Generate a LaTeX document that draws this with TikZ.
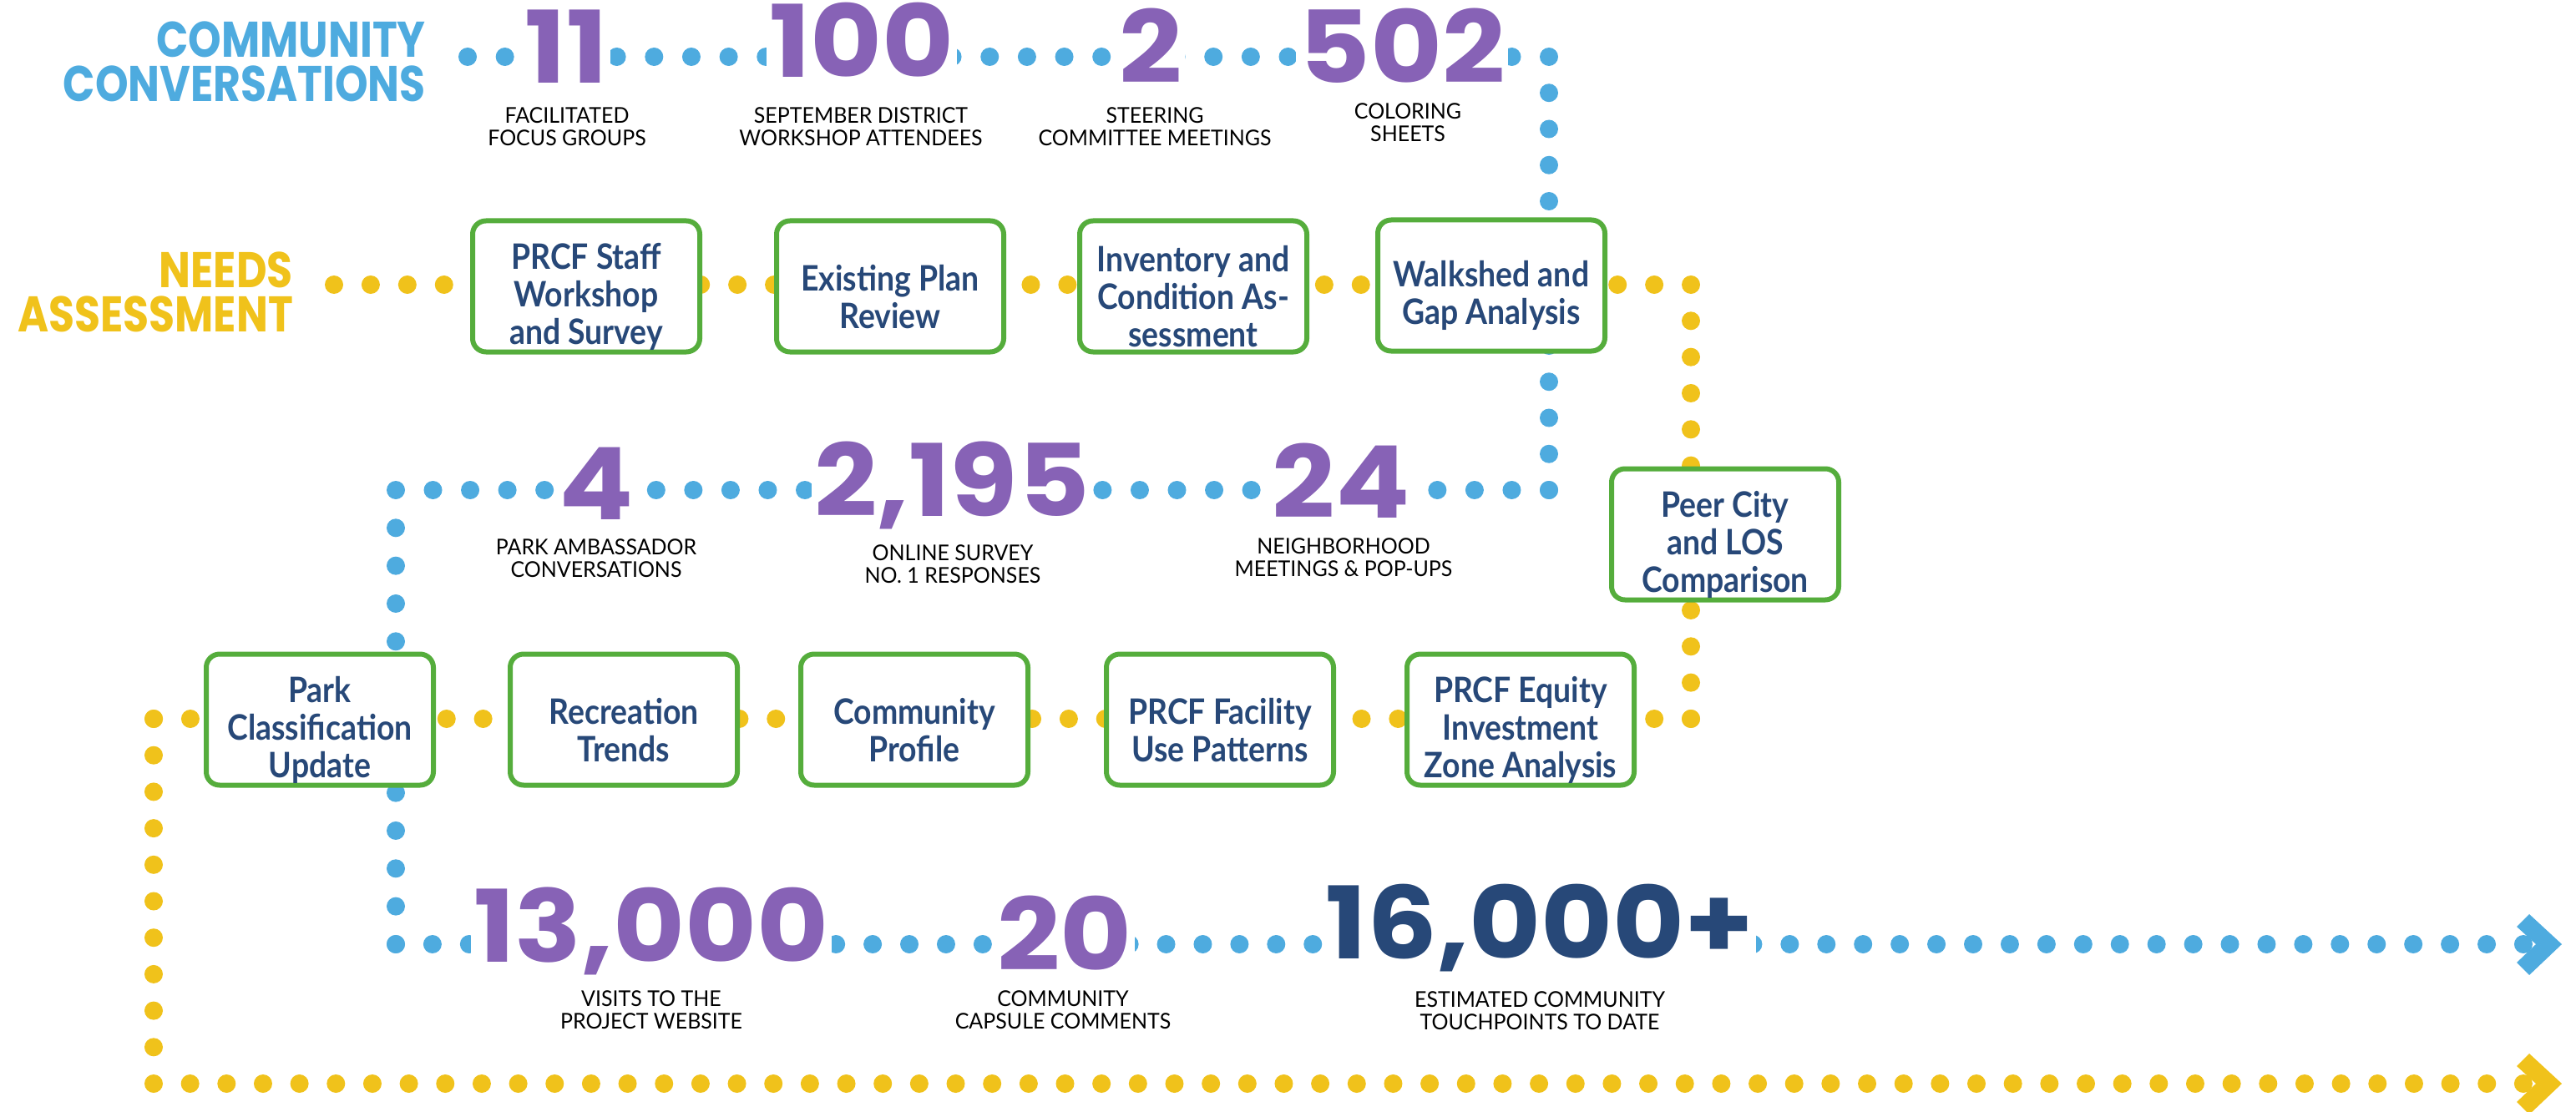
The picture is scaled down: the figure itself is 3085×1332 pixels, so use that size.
\documentclass[tikz,border=0pt]{standalone}
\usepackage{fontspec}
\newfontfamily\headfont{Poppins}[FakeStretch=0.84]
\newfontfamily\numfont{Poppins}[FakeStretch=1.1]
\newfontfamily\boxfont{Lato}[FakeStretch=0.89]
\newfontfamily\labfont{Lato}[FakeStretch=0.96]
\definecolor{blueC}{HTML}{4EABDF}
\definecolor{yellowC}{HTML}{F0C21B}
\definecolor{purpleC}{HTML}{8762B6}
\definecolor{navyC}{HTML}{274878}
\definecolor{greenC}{HTML}{55AD3C}
\newcommand\boxstrut{\rule{0pt}{56pt}}
\tikzset{
 dotline/.style={line width=22pt, line cap=round},
 box/.style={draw=greenC, line width=6pt, rounded corners=16pt, fill=white,
   minimum width=272pt, minimum height=157pt, align=center, text=navyC,
   inner sep=0pt, font=\boxfont\bfseries\fontsize{42}{45}\selectfont},
 bignum/.style={text=purpleC, fill=white, inner sep=3pt, anchor=base,
   font=\numfont\bfseries\fontsize{120}{120}\selectfont},
 lab/.style={align=center, text=black, inner sep=0pt,
   font=\labfont\fontsize{26}{27}\selectfont},
 heading/.style={align=right, anchor=east, inner sep=0pt,
   font=\headfont\bfseries\fontsize{60}{53}\selectfont}
}
\begin{document}
\begin{tikzpicture}[x=1pt,y=-1pt]
\useasboundingbox (0,0) rectangle (3085,1332);
% corners
\coordinate (bS) at (560,68);
\coordinate (bC1) at (1855,68);
\coordinate (bC2) at (1855,587);
\coordinate (bC3) at (474,587);
\coordinate (bC4) at (474,1131);
\coordinate (bE) at (3022,1131);
\coordinate (yS) at (400,341);
\coordinate (yC1) at (2025,341);
\coordinate (yC2) at (2025,861);
\coordinate (yC3) at (184,861);
\coordinate (yC4) at (184,1298);
\coordinate (yE) at (3022,1298);
% blue dotted path
\draw[dotline, blueC, dash pattern=on 0pt off 44.66pt] (bS) -- (bC1);
\draw[dotline, blueC, dash pattern=on 0pt off 43.25pt] (bC1) -- (bC2);
\draw[dotline, blueC, dash pattern=on 0pt off 44.55pt] (bC2) -- (bC3);
\draw[dotline, blueC, dash pattern=on 0pt off 45.33pt] (bC3) -- (bC4);
\draw[dotline, blueC, dash pattern=on 0pt off 43.93pt] (bC4) -- (bE);
\fill[blueC, shift={(bE)}] (7,-36) -- (46,0) -- (7,37) -- (-8,22) -- (15,0) -- (-8,-21) -- cycle;
% yellow dotted path
\draw[dotline, yellowC, dash pattern=on 0pt off 43.92pt] (yS) -- (yC1);
\draw[dotline, yellowC, dash pattern=on 0pt off 43.33pt] (yC1) -- (yC2);
\draw[dotline, yellowC, dash pattern=on 0pt off 43.83pt] (yC2) -- (yC3);
\draw[dotline, yellowC, dash pattern=on 0pt off 43.70pt] (yC3) -- (yC4);
\draw[dotline, yellowC, dash pattern=on 0pt off 43.66pt] (yC4) -- (yE);
\fill[yellowC, shift={(yE)}] (7,-36) -- (46,0) -- (7,37) -- (-8,22) -- (15,0) -- (-8,-21) -- cycle;
% headings
\node[heading, text=blueC] (cc) at (510,74) {COMMUNITY\\CONVERSATIONS};
\node[heading, text=yellowC] (na) at (351,350) {NEEDS\\ASSESSMENT};
% boxes
\node[box] (b1) at (702,343) {\boxstrut PRCF Staff\\Workshop\\and Survey};
\node[box] (b2) at (1066,343) {\boxstrut Existing Plan\\Review};
\node[box] (b3) at (1429,343) {\boxstrut Inventory and\\Condition As-\\sessment};
\node[box] (b4) at (1786,342) {\boxstrut Walkshed and\\Gap Analysis};
\node[box] (b5) at (2066,640) {\boxstrut Peer City\\and LOS\\Comparison};
\node[box] (b6) at (383,862) {\boxstrut Park\\Classification\\Update};
\node[box] (b7) at (747,862) {\boxstrut Recreation\\Trends};
\node[box] (b8) at (1095,862) {\boxstrut Community\\Profile};
\node[box] (b9) at (1461,862) {\boxstrut PRCF Facility\\Use Patterns};
\node[box] (b10) at (1821,862) {\boxstrut PRCF Equity\\Investment\\Zone Analysis};
% numbers
\node[bignum] (n11) at (678,100) {11};
\node[bignum] (n100) at (1032,93) {100};
\node[bignum] (n2) at (1378,100) {2};
\node[bignum] (n502) at (1679,100) {502};
\node[bignum] (n4) at (714,622) {4};
\node[bignum] (n2195) at (1140,618) {2,195};
\node[bignum] (n24) at (1606,620) {24};
\node[bignum] (n13000) at (780,1152) {13,000};
\node[bignum] (n20) at (1275,1162) {20};
\node[bignum, text=navyC] (n16000) at (1844,1148) {16,000+};
% labels
\node[lab] (l11) at (679,152) {FACILITATED\\FOCUS GROUPS};
\node[lab] (l100) at (1031,152) {SEPTEMBER DISTRICT\\WORKSHOP ATTENDEES};
\node[lab] (l2) at (1383,152) {STEERING\\COMMITTEE MEETINGS};
\node[lab] (l502) at (1686,147) {COLORING\\SHEETS};
\node[lab] (l4) at (714,669) {PARK AMBASSADOR\\CONVERSATIONS};
\node[lab] (l2195) at (1141,676) {ONLINE SURVEY\\NO. 1 RESPONSES};
\node[lab] (l24) at (1609,668) {NEIGHBORHOOD\\MEETINGS \& POP-UPS};
\node[lab] (l13000) at (780,1210) {VISITS TO THE\\PROJECT WEBSITE};
\node[lab] (l20) at (1273,1210) {COMMUNITY\\CAPSULE COMMENTS};
\node[lab] (l16000) at (1844,1211) {ESTIMATED COMMUNITY\\TOUCHPOINTS TO DATE};
\end{tikzpicture}
\end{document}
